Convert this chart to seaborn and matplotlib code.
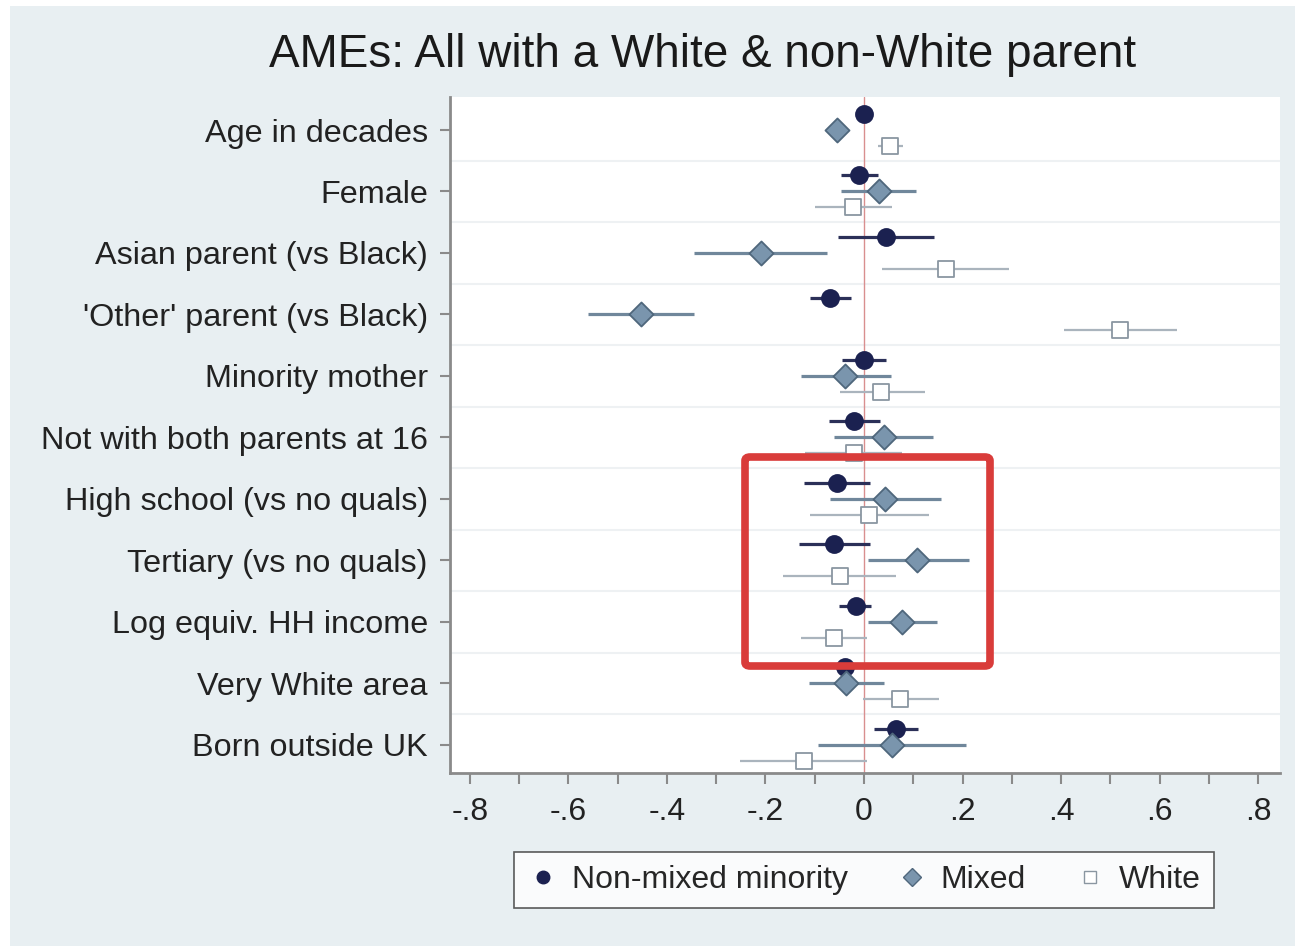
import numpy as np
import pandas as pd
import matplotlib
matplotlib.use("Agg")
import matplotlib.pyplot as plt
import seaborn as sns
from matplotlib.lines import Line2D
from matplotlib.patches import FancyBboxPatch, Rectangle

categories = ["Age in decades", "Female", "Asian parent (vs Black)",
              "'Other' parent (vs Black)", "Minority mother",
              "Not with both parents at 16", "High school (vs no quals)",
              "Tertiary (vs no quals)", "Log equiv. HH income",
              "Very White area", "Born outside UK"]

nm_est = [0.000, -0.010, 0.044, -0.068, 0.000, -0.020, -0.055, -0.061, -0.017, -0.038, 0.064]
nm_lo = [-0.004, -0.046, -0.053, -0.110, -0.044, -0.071, -0.122, -0.132, -0.051, -0.085, 0.020]
nm_hi = [0.004, 0.028, 0.142, -0.026, 0.044, 0.032, 0.012, 0.013, 0.015, 0.010, 0.110]

mx_est = [-0.054, 0.030, -0.210, -0.453, -0.038, 0.040, 0.043, 0.108, 0.077, -0.036, 0.056]
mx_lo = [-0.060, -0.046, -0.344, -0.560, -0.127, -0.061, -0.068, 0.008, 0.008, -0.112, -0.093]
mx_hi = [-0.048, 0.105, -0.075, -0.345, 0.054, 0.140, 0.156, 0.213, 0.148, 0.040, 0.206]

wh_est = [0.052, -0.022, 0.166, 0.520, 0.035, -0.020, 0.010, -0.049, -0.061, 0.072, -0.122]
wh_lo = [0.028, -0.099, 0.037, 0.405, -0.049, -0.119, -0.110, -0.164, -0.127, -0.003, -0.252]
wh_hi = [0.079, 0.056, 0.294, 0.635, 0.123, 0.078, 0.131, 0.064, 0.006, 0.152, 0.006]

group_names = ["Non-mixed minority", "Mixed", "White"]
x_ticks = [-0.8, -0.6, -0.4, -0.2, 0.0, 0.2, 0.4, 0.6, 0.8]
x_tick_labels = ["-.8", "-.6", "-.4", "-.2", "0", ".2", ".4", ".6", ".8"]
title = "AMEs: All with a White & non-White parent"

sns.set_theme(style="white")
plt.rcParams["font.family"] = ["Liberation Sans", "DejaVu Sans"]

BG = "#e8eff2"
W, H = 1295, 946
fig = plt.figure(figsize=(W / 100, H / 100), dpi=100, facecolor=BG)

# white margins at the top and left of the screenshot
fig.patches.append(Rectangle((0, 1 - 6 / H), 1, 6 / H, transform=fig.transFigure,
                             facecolor="white", edgecolor="none", zorder=0))
fig.patches.append(Rectangle((0, 0), 10 / W, 1, transform=fig.transFigure,
                             facecolor="white", edgecolor="none", zorder=0))

ax = fig.add_axes([450 / W, 1 - 773 / H, (1280 - 450) / W, (773 - 97) / H])
ax.set_facecolor("white")

idx = np.arange(len(categories))
off = 0.26

styles = [
    dict(est=nm_est, lo=nm_lo, hi=nm_hi, dy=-off, marker="o", face="#1b2150",
         edge="#1b2150", ci="#2b3058", lw=2.3, s=150),
    dict(est=mx_est, lo=mx_lo, hi=mx_hi, dy=0.0, marker="D", face="#7a95ad",
         edge="#4f677c", ci="#70879b", lw=2.3, s=150),
    dict(est=wh_est, lo=wh_lo, hi=wh_hi, dy=off, marker="s", face="white",
         edge="#8a96a1", ci="#aab4bd", lw=1.6, s=140),
]

ax.axvline(0, color="#d98f8f", lw=1.0, zorder=1)

for name, st in zip(group_names, styles):
    df = pd.DataFrame({"category": categories, "est": st["est"],
                       "lo": st["lo"], "hi": st["hi"],
                       "y": idx + st["dy"]})
    ax.hlines(df["y"], df["lo"], df["hi"], color=st["ci"], lw=st["lw"], zorder=2)
    sns.scatterplot(data=df, x="est", y="y", ax=ax, marker=st["marker"],
                    color=st["face"], edgecolor=st["edge"], linewidth=1.3,
                    s=st["s"], zorder=3, legend=False)

for g in idx[:-1] + 0.5:
    ax.axhline(g, color="#eef1f3", lw=1.5, zorder=0)

ax.set_xlim(-0.840, 0.844)
ax.set_ylim(10.46, -0.537)
ax.set_yticks(idx)
ax.set_yticklabels(categories)
ax.set_xticks(x_ticks)
ax.set_xticklabels(x_tick_labels)
ax.set_xticks(np.arange(-0.7, 0.8, 0.2), minor=True)
ax.set_xlabel("")
ax.set_ylabel("")

for side in ["top", "right"]:
    ax.spines[side].set_visible(False)
for side in ["left", "bottom"]:
    ax.spines[side].set_color("#8a8a8a")
    ax.spines[side].set_linewidth(2.0)

ax.tick_params(axis="y", which="major", left=True, length=7, width=1.5,
               color="#8a8a8a", labelsize=23.3, labelcolor="#222222", pad=9)
ax.tick_params(axis="x", which="both", bottom=True, length=8, width=1.5,
               color="#8a8a8a", labelsize=23, labelcolor="#222222", pad=9)

fig.text(703 / W, 1 - 55 / H, title, ha="center", va="center",
         fontsize=33, color="#1a1a1a")

handles = [
    Line2D([], [], ls="none", marker="o", ms=9, mfc="#1b2150", mec="#1b2150"),
    Line2D([], [], ls="none", marker="D", ms=9, mfc="#7a95ad", mec="#4f677c"),
    Line2D([], [], ls="none", marker="s", ms=9, mfc="white", mec="#8a96a1"),
]
leg = fig.legend(handles, group_names, loc="center",
                 bbox_to_anchor=(864 / W, 1 - 880 / H), ncol=3,
                 fontsize=23, frameon=True, fancybox=False,
                 handletextpad=0.4, columnspacing=1.5, handlelength=1.0,
                 borderpad=0.42)
leg.get_frame().set_edgecolor("#333333")
leg.get_frame().set_linewidth(1.2)
leg.get_frame().set_facecolor("white")

# red highlight box
x0, y0, x1, y1 = 745, 457, 990, 666
box = FancyBboxPatch((x0 / W, 1 - y1 / H), (x1 - x0) / W, (y1 - y0) / H,
                     boxstyle="round,pad=0,rounding_size=0.004",
                     transform=fig.transFigure, facecolor="none",
                     edgecolor="#d93c3a", linewidth=5.5, zorder=10)
fig.patches.append(box)

fig.savefig("out.png", dpi=100, facecolor=BG)
